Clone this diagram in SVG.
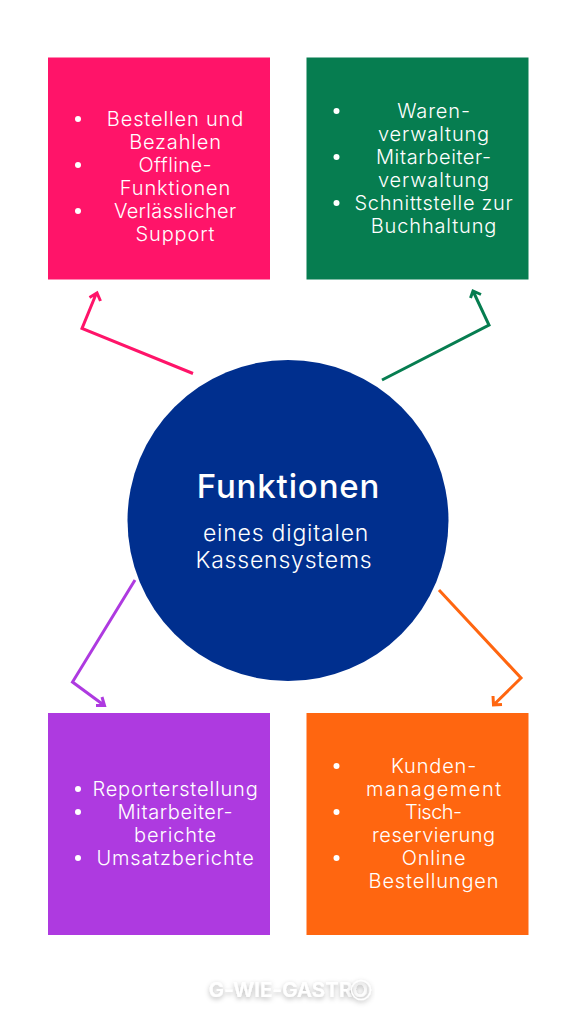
<svg xmlns="http://www.w3.org/2000/svg" width="576" height="1024" viewBox="0 0 576 1024">
<defs>
<style>
text{font-family:"Inter","Open Sans","Liberation Sans",sans-serif;text-anchor:middle}
.t{font-size:20px;font-weight:300;fill:#fff;letter-spacing:.85px}
.h{font-size:33px;font-weight:500;fill:#fff;letter-spacing:.85px}
.s{font-size:23px;font-weight:300;fill:#fff;letter-spacing:.8px}
.w{font-size:20.500px;font-weight:600;fill:#fff;letter-spacing:.1px}
.b{fill:#fff}
.c{fill:none;stroke-width:3;stroke-linejoin:miter;stroke-linecap:butt}
</style>
<filter id="sh" x="-20%" y="-60%" width="140%" height="220%"><feDropShadow dx="0" dy="2" stdDeviation="2.500" flood-color="#000" flood-opacity=".3"/></filter>
</defs>
<rect width="576" height="1024" fill="#fff"/>
<g id="connectors">
<path class="c" stroke="#ff1469" d="M193 373.500L82 328.500L96.500 293M89.500 297.500L97 293L100.500 301"/>
<path class="c" stroke="#067d50" d="M382 380L489 325L473 291M470.500 298L473 291L481 294.500"/>
<path class="c" stroke="#ae3ae0" d="M135 580L72.500 682L103 704.500M96 705.500H104.500L102 697"/>
<path class="c" stroke="#ff6610" d="M439 590L521 678L494 704.500M493 696L493.500 705L502 704.500"/>
</g>
<g id="node-pink">
<rect x="48" y="57.500" width="222" height="222" fill="#ff1469"/>
<circle class="b" cx="78" cy="119" r="3"/><circle class="b" cx="78" cy="165" r="3"/><circle class="b" cx="78" cy="211" r="3"/>
<text class="t" x="175.500" y="126">Bestellen und</text>
<text class="t" x="175.500" y="149">Bezahlen</text>
<text class="t" x="175.500" y="172" textLength="74">Offline-</text>
<text class="t" x="175.500" y="195">Funktionen</text>
<text class="t" x="175.500" y="218" textLength="123">Verlässlicher</text>
<text class="t" x="175.500" y="241">Support</text>
</g>
<g id="node-green">
<rect x="306.500" y="57.500" width="222" height="222" fill="#067d50"/>
<circle class="b" cx="336.500" cy="111" r="3"/><circle class="b" cx="336.500" cy="157" r="3"/><circle class="b" cx="336.500" cy="203" r="3"/>
<text class="t" x="434" y="118">Waren-</text>
<text class="t" x="434" y="141">verwaltung</text>
<text class="t" x="434" y="164" textLength="116">Mitarbeiter-</text>
<text class="t" x="434" y="187">verwaltung</text>
<text class="t" x="434" y="210" textLength="159">Schnittstelle zur</text>
<text class="t" x="434" y="233">Buchhaltung</text>
</g>
<g id="node-center">
<circle cx="288" cy="520.500" r="160.500" fill="#002f8e"/>
<text class="h" x="288.500" y="498">Funktionen</text>
<text class="s" x="286" y="541">eines digitalen</text>
<text class="s" x="284" y="568">Kassensystems</text>
</g>
<g id="node-purple">
<rect x="48" y="713" width="222" height="222" fill="#ae3ae0"/>
<circle class="b" cx="78" cy="789" r="3"/><circle class="b" cx="78" cy="812" r="3"/><circle class="b" cx="78" cy="858" r="3"/>
<text class="t" x="175.500" y="796">Reporterstellung</text>
<text class="t" x="175.500" y="819" textLength="116">Mitarbeiter-</text>
<text class="t" x="175.500" y="842">berichte</text>
<text class="t" x="175.500" y="865">Umsatzberichte</text>
</g>
<g id="node-orange">
<rect x="306.500" y="713" width="222" height="222" fill="#ff6610"/>
<circle class="b" cx="336.500" cy="766" r="3"/><circle class="b" cx="336.500" cy="812" r="3"/><circle class="b" cx="336.500" cy="858" r="3"/>
<text class="t" x="434" y="773">Kunden-</text>
<text class="t" x="434" y="796" textLength="136">management</text>
<text class="t" x="434" y="819" textLength="58">Tisch-</text>
<text class="t" x="434" y="842" textLength="124">reservierung</text>
<text class="t" x="434" y="865">Online</text>
<text class="t" x="434" y="888">Bestellungen</text>
</g>
<g id="watermark">
<text class="w" x="288.500" y="997" filter="url(#sh)">G-WIE-GASTRO</text>
<circle cx="361" cy="990" r="9.500" fill="none" stroke="#fff" stroke-width="1.500" filter="url(#sh)"/>
</g>
</svg>
